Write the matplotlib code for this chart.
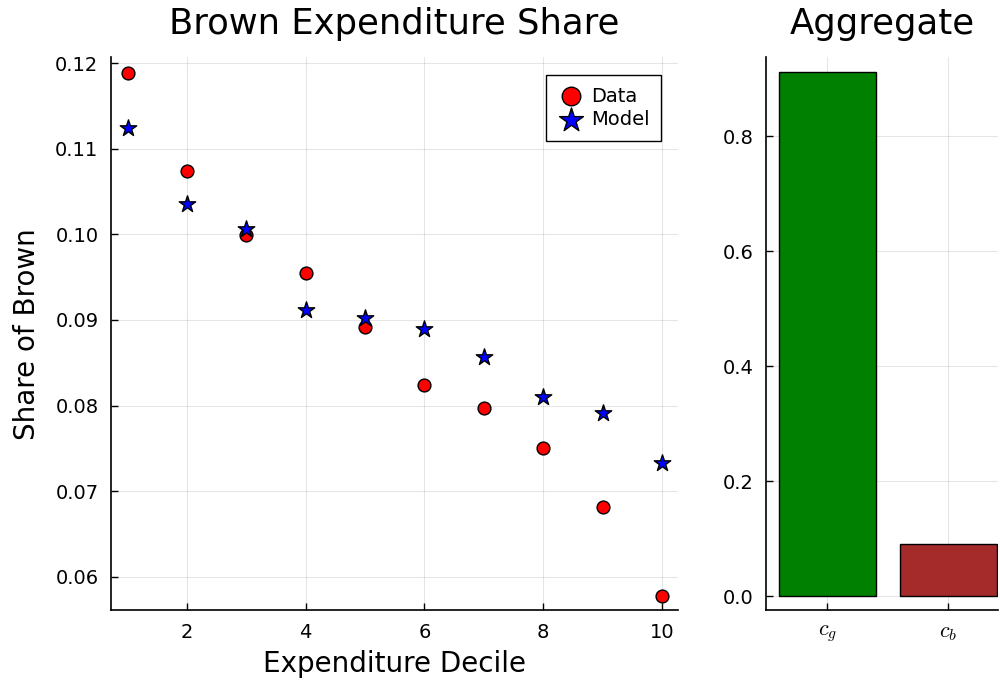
import matplotlib
matplotlib.use("Agg")
import matplotlib.pyplot as plt
from matplotlib.ticker import FormatStrFormatter

# deciles and shares
deciles = [1, 2, 3, 4, 5, 6, 7, 8, 9, 10]
data_share = [0.1189, 0.1074, 0.0999, 0.0955, 0.0892, 0.0824, 0.0797, 0.0750, 0.0681, 0.0578]
model_share = [0.1124, 0.1035, 0.1006, 0.0912, 0.0902, 0.0890, 0.0857, 0.0810, 0.0791, 0.0733]

agg_labels = ["$c_g$", "$c_b$"]
agg_values = [0.911, 0.090]
agg_colors = ["#008000", "#A52A2A"]

plt.rcParams["mathtext.fontset"] = "cm"
plt.rcParams["font.family"] = "DejaVu Sans"

fig = plt.figure(figsize=(10, 6.81), dpi=100)
ax1 = fig.add_axes([0.111, 0.104, 0.567, 0.812])
ax2 = fig.add_axes([0.766, 0.104, 0.232, 0.812])

def style(ax):
	for s in ["top", "right"]:
		ax.spines[s].set_visible(False)
	for s in ["left", "bottom"]:
		ax.spines[s].set_linewidth(1.2)
	ax.grid(True, color="black", alpha=0.1, linewidth=0.8)
	ax.set_axisbelow(True)
	ax.tick_params(direction="in", length=5, width=1, labelsize=14, pad=9)

# left panel
style(ax1)
ax1.scatter(deciles, data_share, s=85, c="red", edgecolors="black", linewidths=1, label="Data", zorder=3)
ax1.scatter(deciles, model_share, s=155, marker="*", c="blue", edgecolors="black", linewidths=1, label="Model", zorder=3)
ax1.set_xlim(0.72, 10.27)
ax1.set_ylim(0.0561, 0.1207)
ax1.set_xticks([2, 4, 6, 8, 10])
ax1.set_yticks([0.06, 0.07, 0.08, 0.09, 0.10, 0.11, 0.12])
ax1.yaxis.set_major_formatter(FormatStrFormatter("%.2f"))
ax1.set_xlabel("Expenditure Decile", fontsize=20, labelpad=6)
ax1.set_ylabel("Share of Brown", fontsize=20, labelpad=10)
ax1.set_title("Brown Expenditure Share", fontsize=25.5, pad=17)
leg = ax1.legend(loc="upper right", bbox_to_anchor=(0.97, 0.968), fontsize=14, frameon=True, fancybox=False,
	edgecolor="black", framealpha=1, handletextpad=0.3, borderpad=0.6, labelspacing=0.25, handlelength=1.4,
	borderaxespad=0, markerscale=1.45)
leg.get_frame().set_linewidth(1)

# right panel
style(ax2)
pos = list(range(len(agg_values)))
ax2.bar(pos, agg_values, width=0.8, color=agg_colors, edgecolor="black", linewidth=1, zorder=3)
ax2.set_xlim(-0.508, 1.41)
ax2.set_ylim(-0.0243, 0.937)
ax2.set_xticks(pos)
ax2.set_xticklabels(agg_labels, fontsize=16)
ax2.set_yticks([0.0, 0.2, 0.4, 0.6, 0.8])
ax2.yaxis.set_major_formatter(FormatStrFormatter("%.1f"))
ax2.set_title("Aggregate", fontsize=25.5, pad=17)

fig.savefig("out.png", dpi=100)
